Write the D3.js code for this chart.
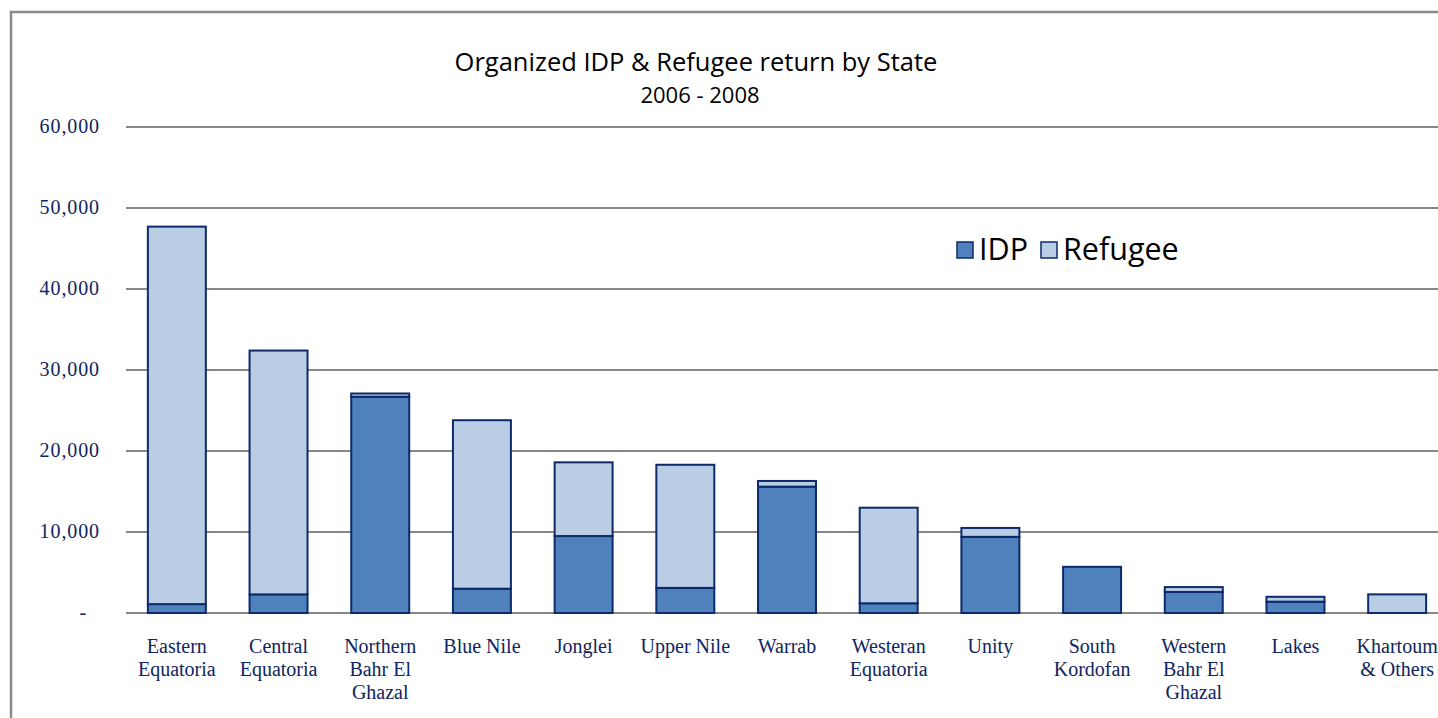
<!DOCTYPE html>
<html>
<head>
<meta charset="utf-8">
<script src="https://cdn.jsdelivr.net/npm/d3@7"></script>
<style>
  body { margin: 0; background: #fff; overflow: hidden; }
</style>
</head>
<body>
<div id="chart"></div>
<script>
var states = [
  ["Eastern", "Equatoria"],
  ["Central", "Equatoria"],
  ["Northern", "Bahr El", "Ghazal"],
  ["Blue Nile"],
  ["Jonglei"],
  ["Upper Nile"],
  ["Warrab"],
  ["Westeran", "Equatoria"],
  ["Unity"],
  ["South", "Kordofan"],
  ["Western", "Bahr El", "Ghazal"],
  ["Lakes"],
  ["Khartoum", "& Others"]
]
var idp = [1100, 2300, 26700, 3000, 9500, 3100, 15600, 1200, 9400, 5700, 2600, 1400, 0]
var refugee = [46600, 30100, 400, 20800, 9100, 15200, 700, 11800, 1100, 0, 600, 600, 2300]
var yTicks = [0, 10000, 20000, 30000, 40000, 50000, 60000]
var seriesNames = ["IDP", "Refugee"]

var width = 1438,
  height = 718,
  margin = {left: 126, right: -10, top: 127, bottom: 105},
  colors = {IDP: "#4f81bd", Refugee: "#b9cde5"},
  edge = "#0d2a6a",
  textBlue = "#0f2460",
  serif = "'Liberation Serif', 'Times New Roman', serif",
  sans = "'Open Sans', 'Noto Sans', sans-serif";

var svg = d3.select("#chart")
  .append("svg")
  .attr("width", width)
  .attr("height", height);

// outer frame
svg.append("path")
  .attr("d", "M11,718 V12 H1440")
  .attr("fill", "none")
  .attr("stroke", "#8a8a8a")
  .attr("stroke-width", 2.5);

var keys = states.map(function (d) { return d.join(" "); });

var x = d3.scaleBand()
  .domain(keys)
  .range([margin.left, width - margin.right])
  .paddingInner(0.43)
  .paddingOuter(0.215);

var y = d3.scaleLinear()
  .domain([0, 60000])
  .range([height - margin.bottom, margin.top]);

// gridlines
svg.append("g")
  .selectAll("line")
  .data(yTicks)
  .enter().append("line")
  .attr("x1", margin.left)
  .attr("x2", width)
  .attr("y1", function (d) { return y(d); })
  .attr("y2", function (d) { return y(d); })
  .attr("stroke", "#878787")
  .attr("stroke-width", 2);

// y labels
svg.append("g")
  .selectAll("text")
  .data(yTicks)
  .enter().append("text")
  .attr("x", function (d) { return d === 0 ? 87 : 100; })
  .attr("y", function (d) { return y(d) + 6; })
  .attr("text-anchor", "end")
  .style("font-family", serif)
  .style("font-size", "20px")
  .style("letter-spacing", "0.9px")
  .attr("fill", textBlue)
  .text(function (d) { return d === 0 ? "-" : d3.format(",")(d); });

// stacked data
var rows = keys.map(function (k, i) { return {key: k, IDP: idp[i], Refugee: refugee[i]}; });
var stacked = d3.stack().keys(seriesNames)(rows);

svg.append("g")
  .selectAll("g")
  .data(stacked)
  .enter().append("g")
  .attr("fill", function (d) { return colors[d.key]; })
  .selectAll("rect")
  .data(function (d) { return d.filter(function (s) { return s[1] - s[0] > 0; }); })
  .enter().append("rect")
  .attr("x", function (d) { return x(d.data.key); })
  .attr("y", function (d) { return y(d[1]); })
  .attr("width", x.bandwidth())
  .attr("height", function (d) { return y(d[0]) - y(d[1]); })
  .attr("stroke", edge)
  .attr("stroke-width", 2);

// x labels
var xl = svg.append("g")
  .selectAll("text")
  .data(states)
  .enter().append("text")
  .attr("text-anchor", "middle")
  .attr("transform", function (d, i) { return "translate(" + (x(keys[i]) + x.bandwidth() / 2) + ",653)"; })
  .style("font-family", serif)
  .style("font-size", "20px")
  .attr("fill", textBlue);

xl.selectAll("tspan")
  .data(function (d) { return d; })
  .enter().append("tspan")
  .attr("x", 0)
  .attr("dy", function (d, i) { return i === 0 ? 0 : 23; })
  .text(function (d) { return d; });

// title
svg.append("text")
  .attr("x", 696)
  .attr("y", 71)
  .attr("text-anchor", "middle")
  .style("font-family", sans)
  .style("font-size", "25.5px")
  .attr("fill", "#000")
  .text("Organized IDP & Refugee return by State");

svg.append("text")
  .attr("x", 700)
  .attr("y", 103)
  .attr("text-anchor", "middle")
  .style("font-family", sans)
  .style("font-size", "22px")
  .attr("fill", "#000")
  .text("2006 - 2008");

// legend
var legendX = [957, 1041];
var legend = svg.append("g")
  .selectAll("g")
  .data(seriesNames)
  .enter().append("g")
  .attr("transform", function (d, i) { return "translate(" + legendX[i] + ",242)"; });

legend.append("rect")
  .attr("width", 16)
  .attr("height", 16)
  .attr("fill", function (d) { return colors[d]; })
  .attr("stroke", edge)
  .attr("stroke-width", 1.5);

legend.append("text")
  .attr("x", 22)
  .attr("y", 18)
  .style("font-family", sans)
  .style("font-size", "30.5px")
  .attr("fill", "#000")
  .text(function (d) { return d; });
</script>
</body>
</html>
